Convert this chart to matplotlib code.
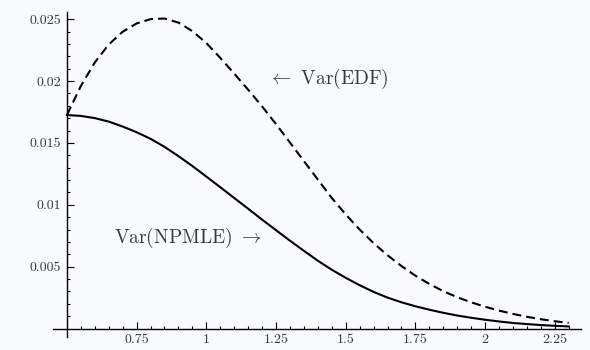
import numpy as np
import matplotlib.pyplot as plt
from matplotlib.ticker import FixedLocator

plt.rcParams["mathtext.fontset"] = "cm"
plt.rcParams["axes.formatter.use_mathtext"] = True

# values (y in units of 0.001)
x = [0.50, 0.55, 0.60, 0.65, 0.70, 0.75, 0.80, 0.85, 0.90, 0.95,
     1.00, 1.05, 1.10, 1.15, 1.20, 1.25, 1.30, 1.35, 1.40, 1.45,
     1.50, 1.55, 1.60, 1.65, 1.70, 1.75, 1.80, 1.85, 1.90, 1.95,
     2.00, 2.05, 2.10, 2.15, 2.20, 2.25, 2.30]
var_edf = [17.25, 19.6, 21.5, 22.95, 23.98, 24.65, 25.0, 25.05, 24.72, 24.03,
           23.07, 21.87, 20.6, 19.3, 17.95, 16.52, 15.03, 13.53, 12.04, 10.55,
           9.22, 8.0, 6.9, 5.92, 5.05, 4.27, 3.6, 3.02, 2.53, 2.12,
           1.76, 1.45, 1.18, 0.95, 0.75, 0.59, 0.45]
var_npmle = [17.25, 17.18, 17.0, 16.72, 16.32, 15.86, 15.33, 14.68, 13.93, 13.13,
             12.28, 11.42, 10.55, 9.68, 8.8, 7.95, 7.1, 6.28, 5.48, 4.75,
             4.1, 3.5, 2.96, 2.5, 2.12, 1.8, 1.52, 1.27, 1.05, 0.87,
             0.71, 0.57, 0.45, 0.36, 0.28, 0.22, 0.17]

x_ticks = [0.75, 1, 1.25, 1.5, 1.75, 2, 2.25]
x_labels = ["0.75", "1", "1.25", "1.5", "1.75", "2", "2.25"]
y_ticks = [0.005, 0.01, 0.015, 0.02, 0.025]
y_labels = ["0.005", "0.01", "0.015", "0.02", "0.025"]

bg = "#f7fbfe"
txt = "#3a3a3a"

fig = plt.figure(figsize=(5.9, 3.5), dpi=100, facecolor=bg)
ax = fig.add_axes([52.7 / 590, 13.3 / 350, (581 - 52.7) / 590, (336.7 - 11.7) / 350])
ax.set_facecolor(bg)

ax.plot(x, np.array(var_edf) / 1000, color="black", lw=1.5, dashes=(4.3, 2.4))
ax.plot(x, np.array(var_npmle) / 1000, color="black", lw=1.5)

ax.set_xlim(0.449, 2.344)
ax.set_ylim(-0.00066, 0.0256)

for s in ["top", "right"]:
    ax.spines[s].set_visible(False)
ax.spines["left"].set_position(("data", 0.5))
ax.spines["bottom"].set_position(("data", 0))
ax.spines["left"].set_linewidth(1.0)
ax.spines["bottom"].set_linewidth(1.0)

ax.set_xticks(x_ticks)
ax.set_xticklabels(x_labels)
ax.set_yticks(y_ticks)
ax.set_yticklabels(y_labels)
ax.xaxis.set_minor_locator(FixedLocator(np.arange(0.55, 2.31, 0.05)))
ax.yaxis.set_minor_locator(FixedLocator(np.arange(0.001, 0.0251, 0.001)))

ax.tick_params(which="both", direction="in", color="black", width=0.8,
               labelsize=10, labelcolor=txt)
ax.tick_params(which="major", length=5)
ax.tick_params(which="minor", length=2.5)
ax.tick_params(axis="x", pad=4)
ax.tick_params(axis="y", pad=4)
for lab in ax.get_xticklabels() + ax.get_yticklabels():
    lab.set_fontfamily("cmr10")

ax.text(1.221, 0.0202, r"$\leftarrow$ Var(EDF)", fontfamily="cmr10",
        fontsize=14, color=txt, ha="left", va="center")
ax.text(1.199, 0.0073, r"Var(NPMLE) $\rightarrow$", fontfamily="cmr10",
        fontsize=14, color=txt, ha="right", va="center")

fig.savefig("out.png", dpi=100, facecolor=bg)
